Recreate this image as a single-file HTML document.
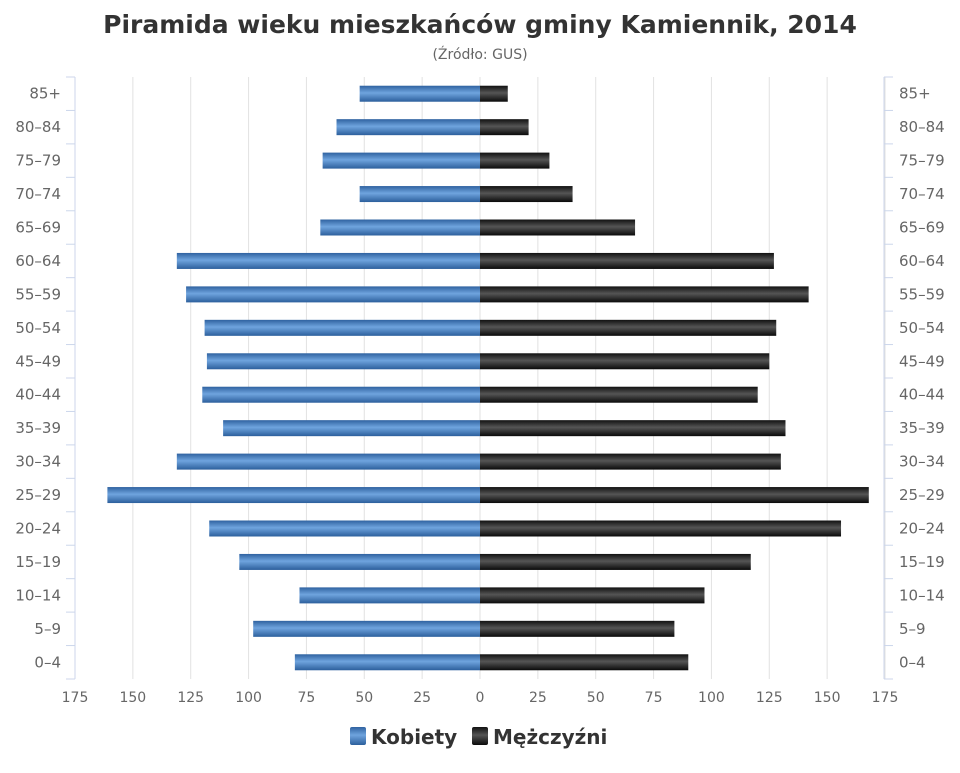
<!DOCTYPE html>
<html><head><meta charset="utf-8"><style>
body{margin:0;background:#fff;font-family:"Liberation Sans","DejaVu Sans",sans-serif;}
svg text{font-family:"DejaVu Sans","Liberation Sans",sans-serif;}
</style></head><body>
<svg id="c" width="960" height="768" xmlns="http://www.w3.org/2000/svg">
<defs>
<linearGradient id="gb" x1="0" y1="0" x2="0" y2="1"><stop offset="0" stop-color="#2f62a0"/><stop offset="0.45" stop-color="#6fa4de"/><stop offset="1" stop-color="#2c5f9c"/></linearGradient>
<linearGradient id="gk" x1="0" y1="0" x2="0" y2="1"><stop offset="0" stop-color="#111"/><stop offset="0.45" stop-color="#555"/><stop offset="1" stop-color="#0a0a0a"/></linearGradient>
</defs>
<text x="480" y="33" text-anchor="middle" font-size="25" font-weight="bold" fill="#333">Piramida wieku mieszkańców gminy Kamiennik, 2014</text>
<text x="480" y="59" text-anchor="middle" font-size="14" fill="#666">(Źródło: GUS)</text>
<g id="grid"></g><g id="bars"></g><g id="axes"></g>
<g>
<g><rect x="350" y="727" width="16" height="18" rx="2" fill="url(#gb)"/><text x="371" y="744" font-size="20" font-weight="bold" fill="#333">Kobiety</text></g>
<g><rect x="472" y="727" width="16" height="18" rx="2" fill="url(#gk)"/><text x="493" y="744" font-size="20" font-weight="bold" fill="#333">Mężczyźni</text></g>
</g>
</svg>
<script>
const categories=["85+","80-84","75-79","70-74","65-69","60-64","55-59","50-54","45-49","40-44","35-39","30-34","25-29","20-24","15-19","10-14","5-9","0-4"];
const women=[52,62,68,52,69,131,127,119,118,120,111,131,161,117,104,78,98,80];
const men=[12,21,30,40,67,127,142,128,125,120,132,130,168,156,117,97,84,90];
const ticks=[175,150,125,100,75,50,25,0,25,50,75,100,125,150,175];
const NS="http://www.w3.org/2000/svg";
const cx=480,ppu=405/175,topY=77,botY=679,L=75,R=884;
const rowH=(botY-topY)/categories.length;
const xw=v=>cx-v*ppu, xm=v=>cx+v*ppu, yc=i=>topY+rowH*(i+0.5);
function mk(p,tag,a){const e=document.createElementNS(NS,tag);for(const k in a)e.setAttribute(k,a[k]);p.appendChild(e);return e;}
const g=document.getElementById('grid'),b=document.getElementById('bars'),ax=document.getElementById('axes');
ticks.forEach((t,i)=>{const x=i<7?xw(t):xm(t);
 const l=mk(g,'line',{x1:x,x2:x,y1:topY,y2:botY,stroke:'#e2e2e2','stroke-width':1});
 
 
 const tx=mk(ax,'text',{x:x,y:botY+23,'text-anchor':'middle','font-size':14,fill:'#666'});tx.textContent=t;
 
 
});
mk(ax,'line',{x1:L,x2:L,y1:topY,y2:botY,stroke:'#ccd6eb'});
mk(ax,'line',{x1:R,x2:R,y1:topY,y2:botY,stroke:'#ccd6eb'});
for(let k=0;k<=categories.length;k++){const y=topY+rowH*k;
 mk(ax,'line',{x1:L-9,x2:L,y1:y,y2:y,stroke:'#ccd6eb'});mk(ax,'line',{x1:R,x2:R+9,y1:y,y2:y,stroke:'#ccd6eb'});}
categories.forEach((c,i)=>{const y=yc(i);
 const r1=mk(b,'rect',{x:xw(women[i]),y:y-8,width:women[i]*ppu,height:16,fill:'url(#gb)'});
 
 
 const r2=mk(b,'rect',{x:cx,y:y-8,width:men[i]*ppu,height:16,fill:'url(#gk)'});
 
 
 const t1=mk(ax,'text',{x:61,y:y+5,'text-anchor':'end','font-size':15,fill:'#666'});t1.textContent=c.replace('-','–');
 
 
 const t2=mk(ax,'text',{x:899,y:y+5,'text-anchor':'start','font-size':15,fill:'#666'});t2.textContent=c.replace('-','–');
 
 
});
</script>
</body></html>
